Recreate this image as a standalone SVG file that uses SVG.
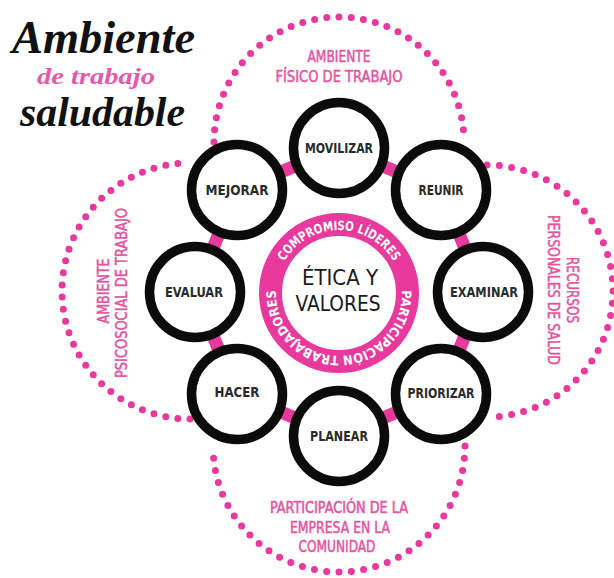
<svg xmlns="http://www.w3.org/2000/svg" width="614" height="578" viewBox="0 0 614 578">
<defs>
<style>
.bg{fill:#ffffff}
.title{font-family:"Liberation Serif","DejaVu Serif",serif;font-style:italic;font-weight:bold;fill:#111111}
.title-pink{font-family:"Liberation Serif","DejaVu Serif",serif;font-style:italic;font-weight:bold;fill:#e35aa8}
.dots{fill:none;stroke:#e8399c;stroke-width:7;stroke-linecap:round;stroke-dasharray:0 1}
.petal-label{font-family:"DejaVu Sans Condensed","DejaVu Sans",sans-serif;font-stretch:condensed;font-size:16px;fill:#e2559f;stroke:#e2559f;stroke-width:0.5;text-anchor:middle}
.link{stroke:#e8399c;stroke-width:13;fill:none}
.node-ring{fill:#ffffff;stroke:#0b0b0b;stroke-width:9.5}
.node-label{font-family:"DejaVu Sans Condensed","DejaVu Sans",sans-serif;font-stretch:condensed;font-weight:bold;font-size:13.5px;fill:#2a2a2a;text-anchor:middle}
.core-ring{fill:#ffffff;stroke:#e8399c;stroke-width:23}
.ring-label{font-family:"DejaVu Sans Condensed","DejaVu Sans",sans-serif;font-stretch:condensed;font-weight:bold;font-size:13px;fill:#ffffff;text-anchor:middle}
.core-label{font-family:"DejaVu Sans Condensed","DejaVu Sans",sans-serif;font-stretch:condensed;font-size:20.5px;fill:#1a1a1a;text-anchor:middle}
</style>
<path id="ringTop" d="M284.44,324.5 A63,63 0 1 1 393.56,324.5"/>
<path id="ringBottom" d="M393.56,261.5 A63,63 0 1 1 284.44,261.5"/>
</defs>
<rect class="bg" x="0" y="0" width="614" height="578"/>

<g id="title">
<text class="title" x="12" y="53" font-size="46" textLength="183" lengthAdjust="spacingAndGlyphs">Ambiente</text>
<text class="title-pink" x="37" y="84" font-size="24" textLength="118" lengthAdjust="spacingAndGlyphs">de trabajo</text>
<text class="title" x="20" y="126" font-size="42" textLength="165" lengthAdjust="spacingAndGlyphs">saludable</text>
</g>

<g id="petal-top">
<path class="dots" pathLength="32" d="M214,142 A125,125 0 0 1 464,142"/>
<text class="petal-label" x="339" y="62" textLength="63" lengthAdjust="spacingAndGlyphs">AMBIENTE</text>
<text class="petal-label" x="339" y="82" textLength="127" lengthAdjust="spacingAndGlyphs">FÍSICO DE TRABAJO</text>
</g>
<g id="petal-left">
<path class="dots" pathLength="33" d="M190,419 A128,128 0 0 1 190,163"/>
<text class="petal-label" transform="translate(109,291) rotate(-90)" x="0" y="0" textLength="65" lengthAdjust="spacingAndGlyphs">AMBIENTE</text>
<text class="petal-label" transform="translate(127,293) rotate(-90)" x="0" y="0" textLength="170" lengthAdjust="spacingAndGlyphs">PSICOSOCIAL DE TRABAJO</text>
</g>
<g id="petal-right">
<path class="dots" pathLength="32" d="M487,165 A126,126 0 0 1 487,417"/>
<text class="petal-label" transform="translate(567,290) rotate(90)" x="0" y="0" textLength="66" lengthAdjust="spacingAndGlyphs">RECURSOS</text>
<text class="petal-label" transform="translate(548,290) rotate(90)" x="0" y="0" textLength="150" lengthAdjust="spacingAndGlyphs">PERSONALES DE SALUD</text>
</g>
<g id="petal-bottom">
<path class="dots" pathLength="32" d="M465,446 A126,126 0 0 1 213,446"/>
<text class="petal-label" x="339" y="513" textLength="138" lengthAdjust="spacingAndGlyphs">PARTICIPACIÓN DE LA</text>
<text class="petal-label" x="340" y="533" textLength="100" lengthAdjust="spacingAndGlyphs">EMPRESA EN LA</text>
<text class="petal-label" x="337" y="552" textLength="77" lengthAdjust="spacingAndGlyphs">COMUNIDAD</text>
</g>

<g id="connectors">
<line class="link" x1="339" y1="148" x2="441" y2="190"/>
<line class="link" x1="441" y1="190" x2="483" y2="292"/>
<line class="link" x1="483" y1="292" x2="441" y2="394"/>
<line class="link" x1="441" y1="394" x2="339" y2="436"/>
<line class="link" x1="339" y1="436" x2="237" y2="394"/>
<line class="link" x1="237" y1="394" x2="195" y2="292"/>
<line class="link" x1="195" y1="292" x2="237" y2="190"/>
<line class="link" x1="237" y1="190" x2="339" y2="148"/>
</g>

<g id="node-movilizar">
<circle class="node-ring" cx="339" cy="148" r="45.5"/>
<text class="node-label" x="339" y="153" textLength="68" lengthAdjust="spacingAndGlyphs">MOVILIZAR</text>
</g>
<g id="node-reunir">
<circle class="node-ring" cx="441" cy="190" r="45.5"/>
<text class="node-label" x="441" y="195" textLength="45" lengthAdjust="spacingAndGlyphs">REUNIR</text>
</g>
<g id="node-examinar">
<circle class="node-ring" cx="483" cy="292" r="45.5"/>
<text class="node-label" x="484" y="297" textLength="68" lengthAdjust="spacingAndGlyphs">EXAMINAR</text>
</g>
<g id="node-priorizar">
<circle class="node-ring" cx="441" cy="394" r="45.5"/>
<text class="node-label" x="441" y="398" textLength="67" lengthAdjust="spacingAndGlyphs">PRIORIZAR</text>
</g>
<g id="node-planear">
<circle class="node-ring" cx="339" cy="436" r="45.5"/>
<text class="node-label" x="339" y="441" textLength="58" lengthAdjust="spacingAndGlyphs">PLANEAR</text>
</g>
<g id="node-hacer">
<circle class="node-ring" cx="237" cy="394" r="45.5"/>
<text class="node-label" x="237" y="397" textLength="45" lengthAdjust="spacingAndGlyphs">HACER</text>
</g>
<g id="node-evaluar">
<circle class="node-ring" cx="195" cy="292" r="45.5"/>
<text class="node-label" x="194" y="297" textLength="58" lengthAdjust="spacingAndGlyphs">EVALUAR</text>
</g>
<g id="node-mejorar">
<circle class="node-ring" cx="237" cy="190" r="45.5"/>
<text class="node-label" x="237" y="195" textLength="63" lengthAdjust="spacingAndGlyphs">MEJORAR</text>
</g>

<g id="node-core">
<circle class="core-ring" cx="339" cy="293" r="68.5"/>
<text class="ring-label"><textPath href="#ringTop" startOffset="50%" textLength="132" lengthAdjust="spacingAndGlyphs">COMPROMISO LÍDERES</textPath></text>
<text class="ring-label"><textPath href="#ringBottom" startOffset="50%" textLength="203" lengthAdjust="spacingAndGlyphs">PARTICIPACIÓN TRABAJADORES</textPath></text>
<text class="core-label" x="340" y="285" textLength="76" lengthAdjust="spacingAndGlyphs">ÉTICA Y</text>
<text class="core-label" x="338" y="311" textLength="85" lengthAdjust="spacingAndGlyphs">VALORES</text>
</g>
</svg>
